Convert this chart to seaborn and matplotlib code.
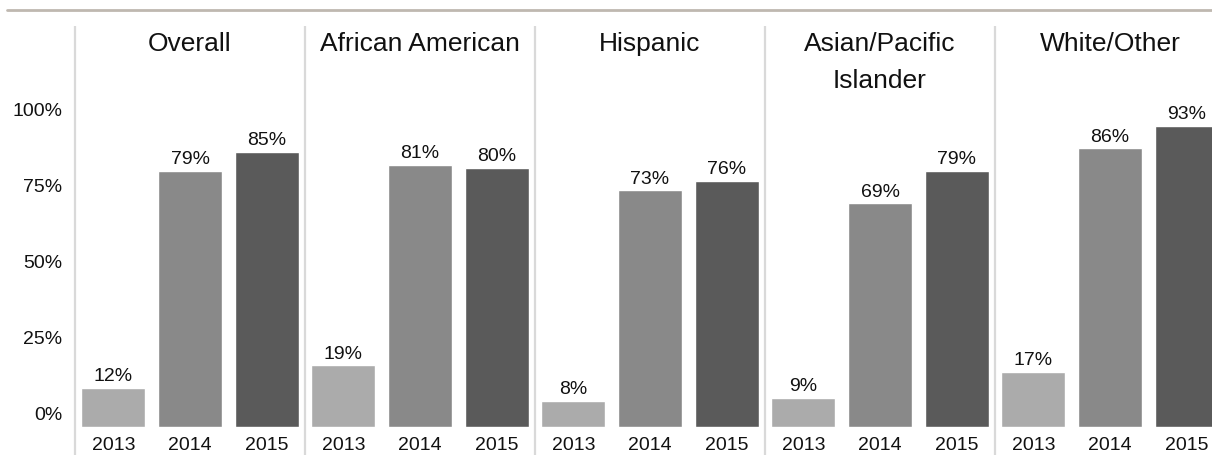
import pandas as pd
import matplotlib
matplotlib.use("Agg")
import matplotlib.pyplot as plt
from matplotlib.lines import Line2D
import seaborn as sns

# ---- data ----
groups = ["Overall", "African American", "Hispanic", "Asian/Pacific\nIslander", "White/Other"]
years = ["2013", "2014", "2015"]
pct_2013 = [12, 19, 8, 9, 17]
pct_2014 = [79, 81, 73, 69, 86]
pct_2015 = [85, 80, 76, 79, 93]
tick_values = [0, 25, 50, 75, 100]
year_colors = ["#ababab", "#898989", "#5a5a5a"]

rows = []
for i, g in enumerate(groups):
    for y, vals in zip(years, [pct_2013, pct_2014, pct_2015]):
        rows.append({"slot": f"{g}|{y}", "group": g, "year": y, "value": vals[i]})
df = pd.DataFrame(rows)

sns.set_style("white")
plt.rcParams["font.family"] = ["Liberation Sans", "DejaVu Sans"]

W, H = 1212, 455
fig = plt.figure(figsize=(W / 100, H / 100), dpi=100)
ax = fig.add_axes([75 / W, (H - 427) / H, (W - 75) / W, 401 / H])

sns.barplot(data=df, x="slot", y="value", hue="year", order=list(df["slot"]),
            hue_order=years, palette=year_colors, dodge=False, width=0.835,
            saturation=1, legend=False, ax=ax)

# value labels above each bar
for cont in ax.containers:
    ax.bar_label(cont, fmt="{:.0f}%", padding=2, fontsize=14, color="#111111")

ax.set_ylim(0, 401 / 3.24)
ax.set_xlim(-0.5, -0.5 + (W - 75) / 76.67)
ax.set_xlabel("")
ax.set_ylabel("")
ax.set_xticks(range(len(df)))
ax.set_xticklabels(df["year"], fontsize=14, color="#111111")
ax.tick_params(axis="x", length=0, pad=7)
ax.set_yticks([])
for s in ax.spines.values():
    s.set_visible(False)

# percentage scale on the left (offset from bar baseline like the original)
ax2 = ax.twinx()
ax2.yaxis.tick_left()
ax2.set_ylim(-14 / 3.03, -14 / 3.03 + 401 / 3.03)
ax2.set_yticks(tick_values)
ax2.set_yticklabels([f"{v}%" for v in tick_values], fontsize=14, color="#111111")
ax2.tick_params(axis="y", length=0, pad=9)
for s in ax2.spines.values():
    s.set_visible(False)

# panel separators and titles
for k, g in enumerate(groups):
    ax.vlines(k * 3 - 0.5, -28 / 401 * ax.get_ylim()[1], ax.get_ylim()[1],
              color="#d9d9d9", lw=1.6, clip_on=False, zorder=0)
    ax.text(k * 3 + 1, 1 - 6 / 401, g, transform=ax.get_xaxis_transform(),
            ha="center", va="top", fontsize=19, linespacing=1.68, color="#111111")

# thin rule across the top
fig.add_artist(Line2D([7 / W, 1.0], [1 - 10 / H, 1 - 10 / H], color="#bfb8b0", lw=2))

fig.savefig("out.png", dpi=100)
